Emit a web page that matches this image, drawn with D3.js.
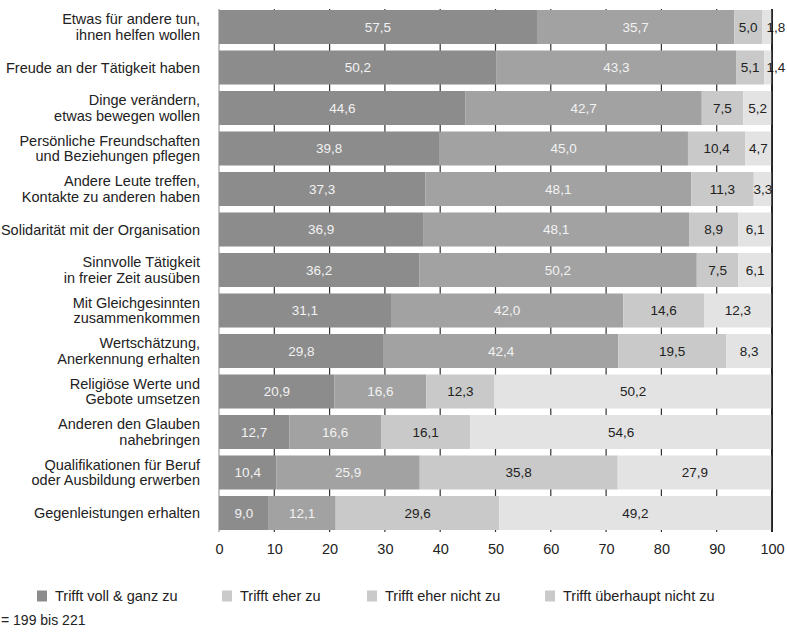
<!DOCTYPE html>
<html>
<head>
<meta charset="utf-8">
<script src="https://cdn.jsdelivr.net/npm/d3@7"></script>
<style>
  html, body { margin: 0; padding: 0; background: #fff; }
  svg { display: block; }
  text { font-family: "Liberation Sans", Arial, sans-serif; }
</style>
</head>
<body>
<script>
// Motive für freiwilliges Engagement (Anteile in %)
const categories = [
  ["Etwas für andere tun,", "ihnen helfen wollen"],
  ["Freude an der Tätigkeit haben"],
  ["Dinge verändern,", "etwas bewegen wollen"],
  ["Persönliche Freundschaften", "und Beziehungen pflegen"],
  ["Andere Leute treffen,", "Kontakte zu anderen haben"],
  ["Solidarität mit der Organisation"],
  ["Sinnvolle Tätigkeit", "in freier Zeit ausüben"],
  ["Mit Gleichgesinnten", "zusammenkommen"],
  ["Wertschätzung,", "Anerkennung erhalten"],
  ["Religiöse Werte und", "Gebote umsetzen"],
  ["Anderen den Glauben", "nahebringen"],
  ["Qualifikationen für Beruf", "oder Ausbildung erwerben"],
  ["Gegenleistungen erhalten"]
];

const seriesNames = ["Trifft voll & ganz zu", "Trifft eher zu", "Trifft eher nicht zu", "Trifft überhaupt nicht zu"];

const vollGanz     = [57.5, 50.2, 44.6, 39.8, 37.3, 36.9, 36.2, 31.1, 29.8, 20.9, 12.7, 10.4, 9.0];
const eher         = [35.7, 43.3, 42.7, 45.0, 48.1, 48.1, 50.2, 42.0, 42.4, 16.6, 16.6, 25.9, 12.1];
const eherNicht    = [5.0, 5.1, 7.5, 10.4, 11.3, 8.9, 7.5, 14.6, 19.5, 12.3, 16.1, 35.8, 29.6];
const ueberhaupt   = [1.8, 1.4, 5.2, 4.7, 3.3, 6.1, 6.1, 12.3, 8.3, 50.2, 54.6, 27.9, 49.2];

const tickValues = [0, 10, 20, 30, 40, 50, 60, 70, 80, 90, 100];
const footnote = "= 199 bis 221";

const barColors    = ["#8c8c8c", "#a2a2a2", "#c8c9c8", "#e3e3e3"];
const legendColors = ["#8c8c8c", "#cacaca", "#cacaca", "#cacaca"];
const labelColors  = ["#f2f2f2", "#f2f2f2", "#222", "#222"];

const W = 787, H = 634;
const svg = d3.select("body").append("svg").attr("width", W).attr("height", H);

const x = d3.scaleLinear().domain([0, 100]).range([219, 772]);
const y = d3.scaleBand().domain(d3.range(categories.length))
  .range([6.75, 533.25]).paddingInner(0.16).paddingOuter(0.08);

// Table of rows with stacked segments
const rows = categories.map((c, i) => ({
  i, label: c,
  vals: [vollGanz[i], eher[i], eherNicht[i], ueberhaupt[i]]
}));
rows.forEach(r => {
  let acc = 0;
  r.segs = r.vals.map((v, k) => { const s = { k, v, x0: acc, x1: acc + v, row: r.i }; acc += v; return s; });
});

// Vertical grid lines behind the bars
const gridTop = 9, gridBottom = 532;
svg.append("g").selectAll("line").data(tickValues).join("line")
  .attr("x1", d => x(d)).attr("x2", d => x(d))
  .attr("y1", gridTop).attr("y2", gridBottom)
  .attr("stroke", d => d === 0 ? "#9a9a9a" : (d === 100 ? "#000" : "#333"))
  .attr("stroke-width", 1.2);

// Stacked bars
const gRows = svg.append("g").selectAll("g").data(rows).join("g");
gRows.selectAll("rect").data(r => r.segs).join("rect")
  .attr("x", d => x(d.x0))
  .attr("width", d => x(d.x1) - x(d.x0))
  .attr("y", d => y(d.row))
  .attr("height", y.bandwidth())
  .attr("fill", d => barColors[d.k]);

// Line at 100 drawn on top
svg.append("line")
  .attr("x1", x(100)).attr("x2", x(100)).attr("y1", gridTop).attr("y2", gridBottom)
  .attr("stroke", "#000").attr("stroke-width", 1.3);

// Value labels
gRows.selectAll("text.val").data(r => r.segs).join("text")
  .attr("class", "val")
  .attr("x", d => d.v < 3 ? x(d.x1) + 4 : (x(d.x0) + x(d.x1)) / 2)
  .attr("y", d => y(d.row) + y.bandwidth() / 2)
  .attr("dy", "0.36em")
  .attr("text-anchor", "middle")
  .attr("font-size", 13.5)
  .attr("fill", d => labelColors[d.k])
  .text(d => d3.format(".1f")(d.v).replace(".", ","));

// Category labels
const catG = svg.append("g");
rows.forEach(r => {
  const cy = y(r.i) + y.bandwidth() / 2;
  const n = r.label.length;
  r.label.forEach((line, j) => {
    catG.append("text")
      .attr("x", 200)
      .attr("y", cy + (j - (n - 1) / 2) * 15.5)
      .attr("dy", "0.36em")
      .attr("text-anchor", "end")
      .attr("font-size", 14.5)
      .attr("fill", "#222")
      .text(line);
  });
});

// X axis tick labels
const xAxis = d3.axisBottom(x).tickValues(tickValues).tickSize(0).tickPadding(0).tickFormat(d3.format("d"));
const ax = svg.append("g").attr("transform", "translate(0,544)").call(xAxis);
ax.select(".domain").remove();
ax.selectAll("text").attr("font-size", 14.5).attr("fill", "#222")
  .attr("font-family", "Liberation Sans, Arial, sans-serif");

// Legend
const legendX = [37, 222, 367, 545];
const lg = svg.append("g").selectAll("g").data(seriesNames).join("g")
  .attr("transform", (d, i) => `translate(${legendX[i]},590.5)`);
lg.append("rect").attr("width", 10).attr("height", 11).attr("fill", (d, i) => legendColors[i]);
lg.append("text").attr("x", 18).attr("y", 5.5).attr("dy", "0.36em")
  .attr("font-size", 14.5).attr("fill", "#222").text(d => d);

// Footnote
svg.append("text").attr("x", 1).attr("y", 620).attr("dy", "0.36em")
  .attr("font-size", 14).attr("fill", "#222").text(footnote);
</script>
</body>
</html>
